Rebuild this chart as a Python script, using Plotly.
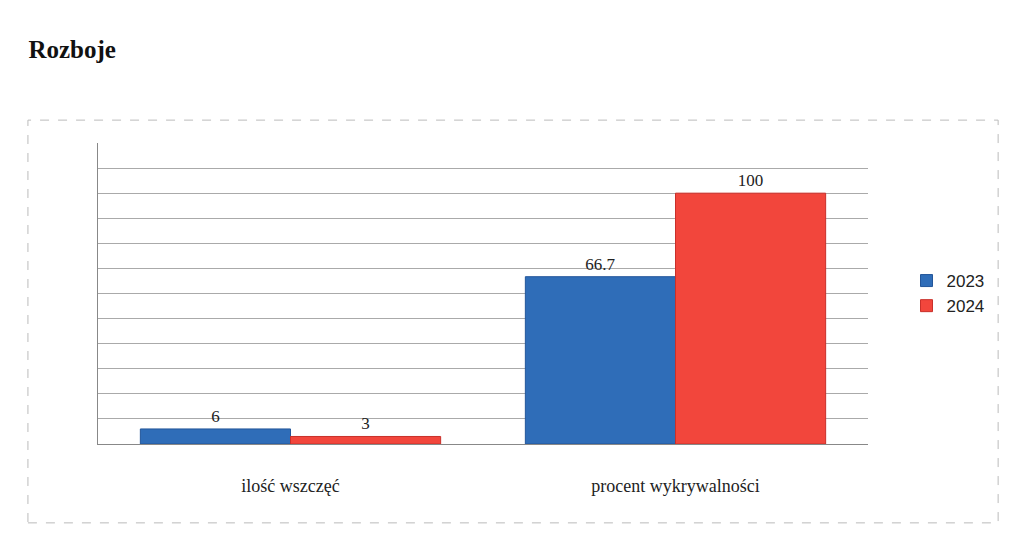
import plotly.graph_objects as go

categories = ["ilość wszczęć", "procent wykrywalności"]
v2023 = [6, 66.7]
v2024 = [3, 100]
labels2023 = ["6", "66.7"]
labels2024 = ["3", "100"]

fig = go.Figure()
fig.add_trace(go.Bar(name="2023", x=categories, y=v2023, text=labels2023,
                     textposition="outside", marker_color="#2f6db8",
                     marker_line=dict(color="#23569a", width=1)))
fig.add_trace(go.Bar(name="2024", x=categories, y=v2024, text=labels2024,
                     textposition="outside", marker_color="#f2463c",
                     marker_line=dict(color="#c9302a", width=1)))

fig.update_traces(textfont=dict(family="Liberation Serif", size=17, color="#222"),
                  cliponaxis=False)
fig.update_layout(
    width=1024, height=546,
    paper_bgcolor="white", plot_bgcolor="white",
    barmode="group", bargap=0.22, bargroupgap=0,
    margin=dict(l=90, r=164, t=135, b=110),
    font=dict(family="Liberation Serif", size=18, color="#222"),
    title=dict(text="<b>Rozboje</b>", x=0.02, y=0.94, xanchor="left",
               font=dict(family="Liberation Serif", size=25, color="#111")),
    legend=dict(x=1.05, y=0.5, yanchor="middle", font=dict(family="Liberation Sans", size=17)),
    xaxis=dict(showline=True, linecolor="#888", ticks="outside", ticklen=25, tickcolor="white"),
    yaxis=dict(range=[0, 120], dtick=10, showticklabels=False,
               gridcolor="#aaa", showline=True, linecolor="#888", zeroline=False),
)
fig.add_shape(type="rect", xref="paper", yref="paper", x0=-0.091, x1=1.169, y0=-0.262, y1=1.076,
              line=dict(color="#bbb", width=1, dash="dash"))
fig.write_html("out.html")
